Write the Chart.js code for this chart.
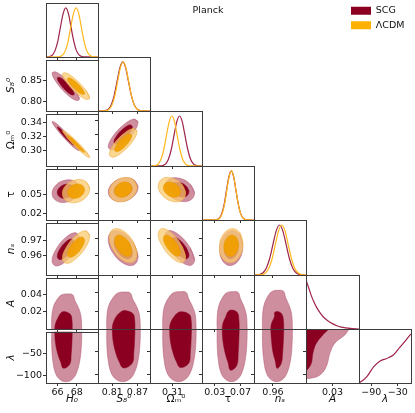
<!DOCTYPE html>
<html>
<head>
<meta charset="utf-8">
<script src="https://cdn.jsdelivr.net/npm/chart.js@4.4.1/dist/chart.umd.min.js"></script>
<style>
  html, body { margin: 0; padding: 0; background: #fff; }
  #wrap { position: relative; width: 415px; height: 413px; overflow: hidden; }
  #wrap canvas { position: absolute; }
</style>
</head>
<body>
<div id="wrap"></div>
<script>
// ---- axes: H0, S8, Om, tau, ns, A, lambda ----
const axisTitles = ['H₀', 'S₈⁰', 'Ωₘ⁰', 'τ', 'nₛ', 'A', 'λ'];
const titleItalic = [true, true, false, false, true, true, true];
const axisMin = [64.8, 0.776, 0.277, 0.010, 0.948, 0, -118];
const axisMax = [70.2, 0.900, 0.353, 0.091, 0.981, 0.06, 0];
const xTicks = [[66, 68], [0.81, 0.87], [0.31], [0.03, 0.07], [0.96], [0.03], [-90, -30]];
const yTicks = [[], [0.80, 0.85], [0.30, 0.32, 0.34], [0.02, 0.05], [0.96, 0.97], [0.02, 0.04], [-100, -50]];
const tickDecimals = [0, 2, 2, 2, 2, 2, 0];

// ---- 1D marginals on the diagonal (peak = 1) ----
const H0_scg_x = [64.8, 64.85, 65.2, 65.48, 65.75, 66.03, 66.3, 66.58, 66.85, 67.13, 67.4, 67.68, 67.95, 68.23, 68.5, 68.85, 70.2];
const H0_scg_p = [0, 0.001, 0.011, 0.044, 0.135, 0.325, 0.607, 0.882, 1, 0.882, 0.607, 0.325, 0.135, 0.044, 0.011, 0.001, 0];
const H0_lcdm_x = [64.8, 65.92, 66.27, 66.54, 66.82, 67.1, 67.37, 67.65, 67.92, 68.2, 68.47, 68.75, 69.02, 69.3, 69.57, 69.92, 70.2];
const H0_lcdm_p = [0, 0.001, 0.011, 0.044, 0.135, 0.325, 0.607, 0.882, 1, 0.882, 0.607, 0.325, 0.135, 0.044, 0.011, 0.001, 0];
const S8_scg_x = [0.776, 0.786, 0.7945, 0.8013, 0.808, 0.8148, 0.8215, 0.8283, 0.835, 0.8418, 0.8485, 0.8553, 0.862, 0.8688, 0.8755, 0.884, 0.900];
const S8_scg_p = [0, 0.001, 0.011, 0.044, 0.135, 0.325, 0.607, 0.882, 1, 0.882, 0.607, 0.325, 0.135, 0.044, 0.011, 0.001, 0];
const S8_lcdm_x = [0.776, 0.7887, 0.797, 0.8035, 0.810, 0.8165, 0.823, 0.8295, 0.836, 0.8425, 0.849, 0.8555, 0.862, 0.8685, 0.875, 0.8833, 0.900];
const S8_lcdm_p = [0, 0.001, 0.011, 0.044, 0.135, 0.325, 0.607, 0.882, 1, 0.882, 0.607, 0.325, 0.135, 0.044, 0.011, 0.001, 0];
const Om_scg_x = [0.277, 0.2906, 0.2958, 0.2999, 0.3039, 0.308, 0.312, 0.3161, 0.3201, 0.3242, 0.3282, 0.3323, 0.3363, 0.3404, 0.3444, 0.3496, 0.353];
const Om_scg_p = [0, 0.001, 0.011, 0.044, 0.135, 0.325, 0.607, 0.882, 1, 0.882, 0.607, 0.325, 0.135, 0.044, 0.011, 0.001, 0];
const Om_lcdm_x = [0.277, 0.2801, 0.2852, 0.2892, 0.2931, 0.2971, 0.301, 0.305, 0.3089, 0.3129, 0.3168, 0.3208, 0.3247, 0.3287, 0.3326, 0.3377, 0.353];
const Om_lcdm_p = [0, 0.001, 0.011, 0.044, 0.135, 0.325, 0.607, 0.882, 1, 0.882, 0.607, 0.325, 0.135, 0.044, 0.011, 0.001, 0];
const tau_scg_x = [0.010, 0.0289, 0.0336, 0.0373, 0.0409, 0.0446, 0.0482, 0.0519, 0.0555, 0.0592, 0.0628, 0.0665, 0.0701, 0.0738, 0.0774, 0.0821, 0.091];
const tau_scg_p = [0, 0.001, 0.011, 0.044, 0.135, 0.325, 0.607, 0.882, 1, 0.882, 0.607, 0.325, 0.135, 0.044, 0.011, 0.001, 0];
const tau_lcdm_x = [0.010, 0.030, 0.0345, 0.0381, 0.0416, 0.0452, 0.0487, 0.0523, 0.0558, 0.0594, 0.0629, 0.0665, 0.070, 0.0736, 0.0771, 0.0816, 0.091];
const tau_lcdm_p = [0, 0.001, 0.011, 0.044, 0.135, 0.325, 0.607, 0.882, 1, 0.882, 0.607, 0.325, 0.135, 0.044, 0.011, 0.001, 0];
const ns_scg_x = [0.948, 0.9489, 0.9516, 0.9537, 0.9558, 0.9579, 0.960, 0.9621, 0.9642, 0.9663, 0.9684, 0.9705, 0.9726, 0.9747, 0.9768, 0.9795, 0.981];
const ns_scg_p = [0, 0.001, 0.011, 0.044, 0.135, 0.325, 0.607, 0.882, 1, 0.882, 0.607, 0.325, 0.135, 0.044, 0.011, 0.001, 0];
const ns_lcdm_x = [0.948, 0.9507, 0.9533, 0.9554, 0.9574, 0.9595, 0.9615, 0.9636, 0.9656, 0.9677, 0.9697, 0.9718, 0.9738, 0.9759, 0.9779, 0.9805, 0.981];
const ns_lcdm_p = [0, 0.001, 0.011, 0.044, 0.135, 0.325, 0.607, 0.882, 1, 0.882, 0.607, 0.325, 0.135, 0.044, 0.011, 0.001, 0];
const A_scg_x = [0, 0.003, 0.006, 0.009, 0.012, 0.016, 0.02, 0.025, 0.03, 0.035, 0.04, 0.045, 0.05, 0.06];
const A_scg_p = [1.0, 0.84, 0.68, 0.55, 0.44, 0.33, 0.24, 0.165, 0.11, 0.066, 0.038, 0.022, 0.011, 0];
const lam_scg_x = [-118, -116, -100, -85, -70, -55, -40, -25, -10, 0];
const lam_scg_p = [0, 0.01, 0.13, 0.33, 0.45, 0.5, 0.57, 0.73, 0.89, 1.0];

// ---- 2D contours, 8-vertex outlines (x values per parameter) ----
const H0_scg95 = [68.27, 67.86, 66.85, 65.85, 65.43, 65.85, 66.85, 67.86];
const H0_scg68 = [67.73, 67.47, 66.85, 66.23, 65.97, 66.23, 66.85, 67.47];
const H0_lcdm95 = [69.34, 68.93, 67.92, 66.92, 66.50, 66.92, 67.92, 68.93];
const H0_lcdm68 = [68.80, 68.54, 67.92, 67.30, 67.04, 67.30, 67.92, 68.54];
const S8_scg95 = [0.8715, 0.8611, 0.836, 0.8109, 0.8005, 0.8109, 0.836, 0.8611];
const S8_scg68 = [0.8580, 0.8516, 0.836, 0.8204, 0.8140, 0.8204, 0.836, 0.8516];
const S8_lcdm95 = [0.8691, 0.8594, 0.836, 0.8126, 0.8029, 0.8126, 0.836, 0.8594];
const S8_lcdm68 = [0.8565, 0.8505, 0.836, 0.8215, 0.8155, 0.8215, 0.836, 0.8505];
const Om_scg95 = [0.3421, 0.3357, 0.3205, 0.3053, 0.2989, 0.3053, 0.3205, 0.3357];
const Om_scg68 = [0.3339, 0.3300, 0.3205, 0.3110, 0.3071, 0.3110, 0.3205, 0.3300];
const Om_lcdm95 = [0.3291, 0.3232, 0.309, 0.2948, 0.2889, 0.2948, 0.309, 0.3232];
const Om_lcdm68 = [0.3215, 0.3178, 0.309, 0.3002, 0.2965, 0.3002, 0.309, 0.3178];
const tau_scg95 = [0.0734, 0.0682, 0.0555, 0.0429, 0.0376, 0.0429, 0.0555, 0.0682];
const tau_scg68 = [0.0666, 0.0634, 0.0555, 0.0477, 0.0444, 0.0477, 0.0555, 0.0634];
const tau_lcdm95 = [0.0739, 0.0685, 0.0555, 0.0425, 0.0371, 0.0425, 0.0555, 0.0685];
const tau_lcdm68 = [0.0669, 0.0636, 0.0555, 0.0474, 0.0441, 0.0474, 0.0555, 0.0636];

// y values of the same outlines, per panel
const S8_H0_scg95 = [0.8047, 0.8258, 0.8529, 0.8700, 0.8673, 0.8462, 0.8191, 0.8020];
const S8_H0_scg68 = [0.8166, 0.8297, 0.8465, 0.8571, 0.8554, 0.8423, 0.8255, 0.8149];
const S8_H0_lcdm95 = [0.8069, 0.8265, 0.8517, 0.8677, 0.8651, 0.8455, 0.8203, 0.8043];
const S8_H0_lcdm68 = [0.8179, 0.8301, 0.8458, 0.8557, 0.8541, 0.8419, 0.8263, 0.8163];
const Om_H0_scg95 = [0.2996, 0.3094, 0.3257, 0.3390, 0.3414, 0.3316, 0.3153, 0.3020];
const Om_H0_scg68 = [0.3075, 0.3136, 0.3238, 0.3320, 0.3335, 0.3274, 0.3173, 0.3090];
const Om_H0_lcdm95 = [0.2895, 0.2987, 0.3139, 0.3262, 0.3285, 0.3193, 0.3041, 0.2918];
const Om_H0_lcdm68 = [0.2969, 0.3026, 0.3120, 0.3197, 0.3211, 0.3154, 0.3060, 0.2983];
const Om_S8_scg95 = [0.3378, 0.3418, 0.3334, 0.3175, 0.3033, 0.2992, 0.3076, 0.3235];
const Om_S8_scg68 = [0.3312, 0.3338, 0.3285, 0.3186, 0.3098, 0.3073, 0.3125, 0.3224];
const Om_S8_lcdm95 = [0.3251, 0.3289, 0.3211, 0.3062, 0.2929, 0.2891, 0.2970, 0.3118];
const Om_S8_lcdm68 = [0.3190, 0.3213, 0.3165, 0.3072, 0.2990, 0.2967, 0.3015, 0.3108];
const tau_H0_scg95 = [0.0591, 0.0704, 0.0730, 0.0654, 0.0519, 0.0406, 0.0380, 0.0456];
const tau_H0_scg68 = [0.0577, 0.0648, 0.0664, 0.0616, 0.0533, 0.0462, 0.0446, 0.0494];
const tau_H0_lcdm95 = [0.0592, 0.0708, 0.0735, 0.0656, 0.0518, 0.0402, 0.0375, 0.0454];
const tau_H0_lcdm68 = [0.0578, 0.0650, 0.0667, 0.0618, 0.0532, 0.0460, 0.0443, 0.0492];
const tau_S8_scg95 = [0.0591, 0.0704, 0.0730, 0.0654, 0.0519, 0.0406, 0.0380, 0.0456];
const tau_S8_scg68 = [0.0577, 0.0648, 0.0664, 0.0616, 0.0533, 0.0462, 0.0446, 0.0494];
const tau_S8_lcdm95 = [0.0592, 0.0708, 0.0735, 0.0656, 0.0518, 0.0402, 0.0375, 0.0454];
const tau_S8_lcdm68 = [0.0578, 0.0650, 0.0667, 0.0618, 0.0532, 0.0460, 0.0443, 0.0492];
const tau_Om_scg95 = [0.0501, 0.0638, 0.0726, 0.0714, 0.0609, 0.0472, 0.0384, 0.0396];
const tau_Om_scg68 = [0.0522, 0.0606, 0.0661, 0.0654, 0.0588, 0.0504, 0.0449, 0.0457];
const tau_Om_lcdm95 = [0.0500, 0.0640, 0.0730, 0.0718, 0.0610, 0.0470, 0.0380, 0.0392];
const tau_Om_lcdm68 = [0.0521, 0.0608, 0.0664, 0.0656, 0.0589, 0.0502, 0.0446, 0.0454];
const ns_H0_scg95 = [0.9716, 0.9747, 0.9717, 0.9643, 0.9568, 0.9537, 0.9567, 0.9641];
const ns_H0_scg68 = [0.9688, 0.9707, 0.9689, 0.9643, 0.9596, 0.9577, 0.9595, 0.9641];
const ns_H0_lcdm95 = [0.9728, 0.9759, 0.9730, 0.9657, 0.9584, 0.9553, 0.9583, 0.9655];
const ns_H0_lcdm68 = [0.9701, 0.9720, 0.9702, 0.9657, 0.9611, 0.9592, 0.9610, 0.9655];
const ns_S8_scg95 = [0.9589, 0.9669, 0.9733, 0.9744, 0.9695, 0.9615, 0.9551, 0.9540];
const ns_S8_scg68 = [0.9609, 0.9659, 0.9699, 0.9705, 0.9675, 0.9625, 0.9585, 0.9579];
const ns_S8_lcdm95 = [0.9605, 0.9683, 0.9745, 0.9755, 0.9708, 0.9629, 0.9567, 0.9557];
const ns_S8_lcdm68 = [0.9624, 0.9673, 0.9711, 0.9718, 0.9688, 0.9640, 0.9601, 0.9594];
const ns_Om_scg95 = [0.9568, 0.9643, 0.9717, 0.9747, 0.9716, 0.9641, 0.9567, 0.9537];
const ns_Om_scg68 = [0.9596, 0.9643, 0.9689, 0.9707, 0.9688, 0.9641, 0.9595, 0.9577];
const ns_Om_lcdm95 = [0.9584, 0.9657, 0.9730, 0.9759, 0.9728, 0.9655, 0.9583, 0.9553];
const ns_Om_lcdm68 = [0.9611, 0.9657, 0.9702, 0.9720, 0.9701, 0.9655, 0.9610, 0.9592];
const ns_tau_scg95 = [0.9653, 0.9724, 0.9747, 0.9709, 0.9632, 0.9560, 0.9537, 0.9575];
const ns_tau_scg68 = [0.9649, 0.9693, 0.9707, 0.9683, 0.9636, 0.9591, 0.9577, 0.9601];
const ns_tau_lcdm95 = [0.9666, 0.9736, 0.9758, 0.9721, 0.9646, 0.9576, 0.9554, 0.9591];
const ns_tau_lcdm68 = [0.9662, 0.9705, 0.9720, 0.9696, 0.9650, 0.9607, 0.9593, 0.9616];

// ---- SCG only: A row (rows touch A = 0) and lambda row (touch lambda = 0) ----
const H0_Arow95 = [65.39, 65.39, 65.55, 65.98, 66.44, 67.11, 67.57, 67.81, 68.17, 68.43, 68.51];
const A_H0_95 = [-0.001, 0.012, 0.025, 0.035, 0.040, 0.041, 0.040, 0.033, 0.025, 0.015, -0.001];
const H0_Arow68 = [65.70, 65.78, 66.09, 66.37, 66.76, 67.34, 67.50, 67.53];
const A_H0_68 = [-0.001, 0.006, 0.014, 0.019, 0.0203, 0.017, 0.010, -0.001];
const S8_Arow95 = [0.797, 0.797, 0.801, 0.8122, 0.8238, 0.841, 0.853, 0.859, 0.8682, 0.875, 0.877];
const A_S8_95 = [-0.001, 0.012, 0.025, 0.035, 0.040, 0.041, 0.040, 0.033, 0.025, 0.015, -0.001];
const S8_Arow68 = [0.8098, 0.8118, 0.8198, 0.8306, 0.8406, 0.8594, 0.8634, 0.8642];
const A_S8_68 = [-0.001, 0.006, 0.014, 0.019, 0.0205, 0.017, 0.010, -0.001];
const Om_Arow95 = [0.2957, 0.2957, 0.2981, 0.305, 0.312, 0.3225, 0.3299, 0.3335, 0.3391, 0.3433, 0.3445];
const A_Om_95 = [-0.001, 0.012, 0.025, 0.0355, 0.0405, 0.0415, 0.0405, 0.0335, 0.025, 0.015, -0.001];
const Om_Arow68 = [0.3055, 0.3067, 0.3116, 0.3177, 0.3238, 0.3347, 0.3372, 0.3377];
const A_Om_68 = [-0.001, 0.006, 0.013, 0.018, 0.0192, 0.016, 0.009, -0.001];
const tau_Arow95 = [0.0336, 0.0336, 0.0359, 0.0425, 0.0493, 0.0593, 0.0664, 0.0699, 0.0753, 0.0792, 0.0804];
const A_tau_95 = [-0.001, 0.012, 0.025, 0.0355, 0.0405, 0.0415, 0.0405, 0.0335, 0.025, 0.015, -0.001];
const tau_Arow68 = [0.0413, 0.0425, 0.0472, 0.0509, 0.0568, 0.0652, 0.0675, 0.068];
const A_tau_68 = [-0.001, 0.006, 0.014, 0.0195, 0.021, 0.018, 0.010, -0.001];
const ns_Arow95 = [0.9534, 0.9534, 0.9543, 0.957, 0.9598, 0.9639, 0.9667, 0.9681, 0.9703, 0.9719, 0.9724];
const A_ns_95 = [-0.001, 0.013, 0.026, 0.037, 0.042, 0.043, 0.042, 0.035, 0.026, 0.016, -0.001];
const ns_Arow68 = [0.9586, 0.9591, 0.961, 0.9612, 0.9636, 0.9658, 0.9667, 0.9669];
const A_ns_68 = [-0.001, 0.006, 0.014, 0.0185, 0.0192, 0.016, 0.009, -0.001];

const H0_Lrow95 = [65.39, 65.39, 65.50, 65.78, 66.25, 66.87, 67.50, 67.96, 68.32, 68.48, 68.51];
const lam_H0_95 = [1, -30, -65, -95, -110, -115, -110, -95, -65, -30, 1];
const H0_Lrow68 = [65.70, 65.78, 66.01, 66.33, 66.60, 67.26, 67.42, 67.50, 67.53];
const lam_H0_68 = [1, -25, -50, -70, -84, -75, -50, -20, 1];
const S8_Lrow95 = [0.797, 0.797, 0.7998, 0.807, 0.819, 0.835, 0.851, 0.863, 0.8722, 0.8762, 0.877];
const lam_S8_95 = [1, -30, -65, -95, -110, -115, -110, -95, -65, -30, 1];
const S8_Lrow68 = [0.8098, 0.8118, 0.8178, 0.8258, 0.8366, 0.8574, 0.8614, 0.8634, 0.8642];
const lam_S8_68 = [1, -25, -50, -70, -85, -75, -50, -20, 1];
const Om_Lrow95 = [0.2957, 0.2957, 0.2974, 0.3018, 0.3091, 0.3189, 0.3286, 0.336, 0.3416, 0.344, 0.3445];
const lam_Om_95 = [1, -30, -65, -95, -110, -115, -110, -95, -65, -30, 1];
const Om_Lrow68 = [0.3055, 0.3067, 0.3103, 0.3152, 0.3213, 0.3335, 0.336, 0.3372, 0.3377];
const lam_Om_68 = [1, -25, -50, -70, -84, -75, -50, -20, 1];
const tau_Lrow95 = [0.0336, 0.0336, 0.0352, 0.0394, 0.0465, 0.0558, 0.0652, 0.0722, 0.0776, 0.0799, 0.0804];
const lam_tau_95 = [1, -30, -65, -95, -110, -115, -110, -95, -65, -30, 1];
const tau_Lrow68 = [0.0413, 0.0425, 0.046, 0.0507, 0.0544, 0.064, 0.0664, 0.0675, 0.068];
const lam_tau_68 = [1, -25, -52, -74, -90, -80, -52, -20, 1];
const ns_Lrow95 = [0.9534, 0.9534, 0.9541, 0.9558, 0.9586, 0.9624, 0.9662, 0.9691, 0.9713, 0.9722, 0.9724];
const lam_ns_95 = [1, -30, -65, -95, -110, -115, -110, -95, -65, -30, 1];
const ns_Lrow68 = [0.9586, 0.9591, 0.96, 0.9615, 0.9627, 0.9653, 0.9662, 0.9667, 0.9669];
const lam_ns_68 = [1, -25, -50, -70, -86, -75, -50, -20, 1];

const A_lam95 = [-0.001, 0.048, 0.047, 0.044, 0.0326, 0.027, 0.023, 0.0154, 0.004, -0.001];
const lam_A95 = [1, 1, -5, -13, -31, -53, -82, -101, -108, -108];
const A_lam68 = [-0.001, 0.025, 0.019, 0.0117, 0.0078, 0.006, 0.001, -0.001];
const lam_A68 = [1, 1, -13, -31, -53, -75, -90, -90];

// ---- layout ----
const colEdges = [46, 98, 150, 202, 254, 306, 359, 411];
const rowEdges = [3, 57, 111, 166, 220, 275, 329, 383];
const PAD_L = 46, PAD_B = 30, PAD_T = 4, PAD_R = 4;

const SCG_LINE = 'rgb(158,36,72)';
const LCDM_LINE = 'rgb(255,184,28)';
const styleSCG95 = { fill: 'rgb(206,142,158)', edge: 'rgba(180,90,118,0.9)', width: 0.6 };
const styleSCG68 = { fill: 'rgb(139,0,33)', edge: 'rgb(139,0,33)', width: 0.5 };
const styleL95 = { fill: 'rgba(249,202,112,0.75)', edge: 'rgba(236,172,64,0.9)', width: 0.6 };
const styleL68 = { fill: 'rgba(241,160,0,0.92)', edge: 'rgb(232,152,0)', width: 0.5 };

Chart.defaults.font.family = "'DejaVu Sans', sans-serif";
Chart.defaults.color = '#111';

const framePlugin = {
  id: 'frame',
  afterDatasetsDraw(chart) {
    const { ctx, chartArea: a } = chart;
    ctx.save();
    ctx.strokeStyle = '#3c3c3c';
    ctx.lineWidth = 1;
    ctx.strokeRect(Math.round(a.left) + 0.5, Math.round(a.top) + 0.5,
      Math.round(a.right - a.left), Math.round(a.bottom - a.top));
    ctx.restore();
  }
};

const wrap = document.getElementById('wrap');
function makeCanvas(left, top, w, h) {
  const cv = document.createElement('canvas');
  cv.width = w; cv.height = h;
  cv.style.left = left + 'px'; cv.style.top = top + 'px';
  cv.style.width = w + 'px'; cv.style.height = h + 'px';
  wrap.appendChild(cv);
  return cv;
}

function fmt(v, pi) {
  return v.toFixed(tickDecimals[pi]).replace('-', '\u2212');
}

function makeScale(pi, axis, showLabels, ticks) {
  return {
    type: 'linear',
    position: axis === 'x' ? 'bottom' : 'left',
    min: axisMin[pi], max: axisMax[pi],
    grid: { display: true, drawOnChartArea: false, drawTicks: true, tickLength: 3, color: '#333', lineWidth: 1 },
    border: { display: false },
    ticks: {
      display: showLabels, padding: 1, maxRotation: 0, autoSkip: false,
      font: { size: 9.5 }, color: '#111',
      callback: v => fmt(v, pi)
    },
    title: {
      display: showLabels, text: axisTitles[pi], color: '#111',
      font: { size: 10.5, style: titleItalic[pi] ? 'italic' : 'normal' },
      padding: axis === 'x' ? { top: 0, bottom: 7 } : { top: 5, bottom: 0 }
    },
    afterBuildTicks: s => { s.ticks = ticks.map(v => ({ value: v })); },
    afterFit: s => { if (axis === 'x') s.height = PAD_B; else s.width = PAD_L; }
  };
}

function diagY() {
  return {
    type: 'linear', min: 0, max: 1.1,
    grid: { display: false }, border: { display: false },
    ticks: { display: false },
    afterBuildTicks: s => { s.ticks = []; },
    afterFit: s => { s.width = PAD_L; }
  };
}

function addPanel(r, c, datasets, isDiag) {
  const pw = colEdges[c + 1] - colEdges[c];
  const ph = rowEdges[r + 1] - rowEdges[r];
  const cv = makeCanvas(colEdges[c] - PAD_L, rowEdges[r] - PAD_T, pw + PAD_L + PAD_R, ph + PAD_T + PAD_B);
  new Chart(cv, {
    type: 'scatter',
    data: { datasets },
    options: {
      responsive: false, animation: false, events: [], devicePixelRatio: 1,
      layout: { padding: { left: 0, top: PAD_T, right: PAD_R, bottom: 0 } },
      plugins: { legend: { display: false }, tooltip: { enabled: false } },
      elements: { point: { radius: 0, hoverRadius: 0 } },
      scales: {
        x: makeScale(c, 'x', r === 6, xTicks[c]),
        y: isDiag ? diagY() : makeScale(r, 'y', c === 0, yTicks[r])
      }
    },
    plugins: [framePlugin]
  });
}

function outline(xs, ys, style, order, closeSmooth) {
  let pts = xs.map((x, i) => ({ x: x, y: ys[i] }));
  if (closeSmooth) pts = pts.concat([pts[0], pts[1]]);
  return {
    data: pts, showLine: true, fill: 'shape', tension: 0.4,
    backgroundColor: style.fill, borderColor: style.edge, borderWidth: style.width,
    pointRadius: 0, order: order
  };
}

function curve(xs, ys, color, order) {
  return {
    data: xs.map((x, i) => ({ x: x, y: ys[i] })),
    showLine: true, fill: false, borderColor: color, borderWidth: 1.2,
    cubicInterpolationMode: 'monotone', pointRadius: 0, order: order
  };
}

// diagonal
addPanel(0, 0, [curve(H0_scg_x, H0_scg_p, SCG_LINE, 2), curve(H0_lcdm_x, H0_lcdm_p, LCDM_LINE, 1)], true);
addPanel(1, 1, [curve(S8_scg_x, S8_scg_p, SCG_LINE, 2), curve(S8_lcdm_x, S8_lcdm_p, LCDM_LINE, 1)], true);
addPanel(2, 2, [curve(Om_scg_x, Om_scg_p, SCG_LINE, 2), curve(Om_lcdm_x, Om_lcdm_p, LCDM_LINE, 1)], true);
addPanel(3, 3, [curve(tau_scg_x, tau_scg_p, SCG_LINE, 2), curve(tau_lcdm_x, tau_lcdm_p, LCDM_LINE, 1)], true);
addPanel(4, 4, [curve(ns_scg_x, ns_scg_p, SCG_LINE, 2), curve(ns_lcdm_x, ns_lcdm_p, LCDM_LINE, 1)], true);
addPanel(5, 5, [curve(A_scg_x, A_scg_p, SCG_LINE, 1)], true);
addPanel(6, 6, [curve(lam_scg_x, lam_scg_p, SCG_LINE, 1)], true);

// both models
function twoModels(r, c, xs, ys) {
  addPanel(r, c, [
    outline(xs[0], ys[0], styleSCG95, 4, true),
    outline(xs[1], ys[1], styleSCG68, 3, true),
    outline(xs[2], ys[2], styleL95, 2, true),
    outline(xs[3], ys[3], styleL68, 1, true)
  ], false);
}
const H0_rings = [H0_scg95, H0_scg68, H0_lcdm95, H0_lcdm68];
const S8_rings = [S8_scg95, S8_scg68, S8_lcdm95, S8_lcdm68];
const Om_rings = [Om_scg95, Om_scg68, Om_lcdm95, Om_lcdm68];
const tau_rings = [tau_scg95, tau_scg68, tau_lcdm95, tau_lcdm68];

twoModels(1, 0, H0_rings, [S8_H0_scg95, S8_H0_scg68, S8_H0_lcdm95, S8_H0_lcdm68]);
twoModels(2, 0, H0_rings, [Om_H0_scg95, Om_H0_scg68, Om_H0_lcdm95, Om_H0_lcdm68]);
twoModels(2, 1, S8_rings, [Om_S8_scg95, Om_S8_scg68, Om_S8_lcdm95, Om_S8_lcdm68]);
twoModels(3, 0, H0_rings, [tau_H0_scg95, tau_H0_scg68, tau_H0_lcdm95, tau_H0_lcdm68]);
twoModels(3, 1, S8_rings, [tau_S8_scg95, tau_S8_scg68, tau_S8_lcdm95, tau_S8_lcdm68]);
twoModels(3, 2, Om_rings, [tau_Om_scg95, tau_Om_scg68, tau_Om_lcdm95, tau_Om_lcdm68]);
twoModels(4, 0, H0_rings, [ns_H0_scg95, ns_H0_scg68, ns_H0_lcdm95, ns_H0_lcdm68]);
twoModels(4, 1, S8_rings, [ns_S8_scg95, ns_S8_scg68, ns_S8_lcdm95, ns_S8_lcdm68]);
twoModels(4, 2, Om_rings, [ns_Om_scg95, ns_Om_scg68, ns_Om_lcdm95, ns_Om_lcdm68]);
twoModels(4, 3, tau_rings, [ns_tau_scg95, ns_tau_scg68, ns_tau_lcdm95, ns_tau_lcdm68]);

// SCG only
function scgOnly(r, c, x95, y95, x68, y68) {
  addPanel(r, c, [
    outline(x95, y95, styleSCG95, 2, false),
    outline(x68, y68, styleSCG68, 1, false)
  ], false);
}
scgOnly(5, 0, H0_Arow95, A_H0_95, H0_Arow68, A_H0_68);
scgOnly(5, 1, S8_Arow95, A_S8_95, S8_Arow68, A_S8_68);
scgOnly(5, 2, Om_Arow95, A_Om_95, Om_Arow68, A_Om_68);
scgOnly(5, 3, tau_Arow95, A_tau_95, tau_Arow68, A_tau_68);
scgOnly(5, 4, ns_Arow95, A_ns_95, ns_Arow68, A_ns_68);
scgOnly(6, 0, H0_Lrow95, lam_H0_95, H0_Lrow68, lam_H0_68);
scgOnly(6, 1, S8_Lrow95, lam_S8_95, S8_Lrow68, lam_S8_68);
scgOnly(6, 2, Om_Lrow95, lam_Om_95, Om_Lrow68, lam_Om_68);
scgOnly(6, 3, tau_Lrow95, lam_tau_95, tau_Lrow68, lam_tau_68);
scgOnly(6, 4, ns_Lrow95, lam_ns_95, ns_Lrow68, lam_ns_68);
scgOnly(6, 5, A_lam95, lam_A95, A_lam68, lam_A68);

// title and legend
new Chart(makeCanvas(150, 0, 116, 22), {
  type: 'scatter',
  data: { datasets: [] },
  options: {
    responsive: false, animation: false, events: [],
    scales: { x: { display: false }, y: { display: false } },
    plugins: {
      legend: { display: false }, tooltip: { enabled: false },
      title: { display: true, text: 'Planck', color: '#111', font: { size: 9.5, weight: 'normal' }, padding: { top: 5, bottom: 0 } }
    }
  }
});
new Chart(makeCanvas(346, 1, 69, 90), {
  type: 'scatter',
  data: { datasets: [
    { label: 'SCG', data: [], backgroundColor: 'rgb(139,0,33)', borderWidth: 0 },
    { label: 'ΛCDM', data: [], backgroundColor: 'rgb(255,176,0)', borderWidth: 0 }
  ] },
  options: {
    responsive: false, animation: false, events: [],
    scales: { x: { display: false }, y: { display: false } },
    plugins: {
      tooltip: { enabled: false },
      legend: { display: true, position: 'top', align: 'start', maxHeight: 60,
        labels: { boxWidth: 20, boxHeight: 8, padding: 5, color: '#111', font: { size: 9.5 } } }
    }
  }
});
</script>
</body>
</html>
